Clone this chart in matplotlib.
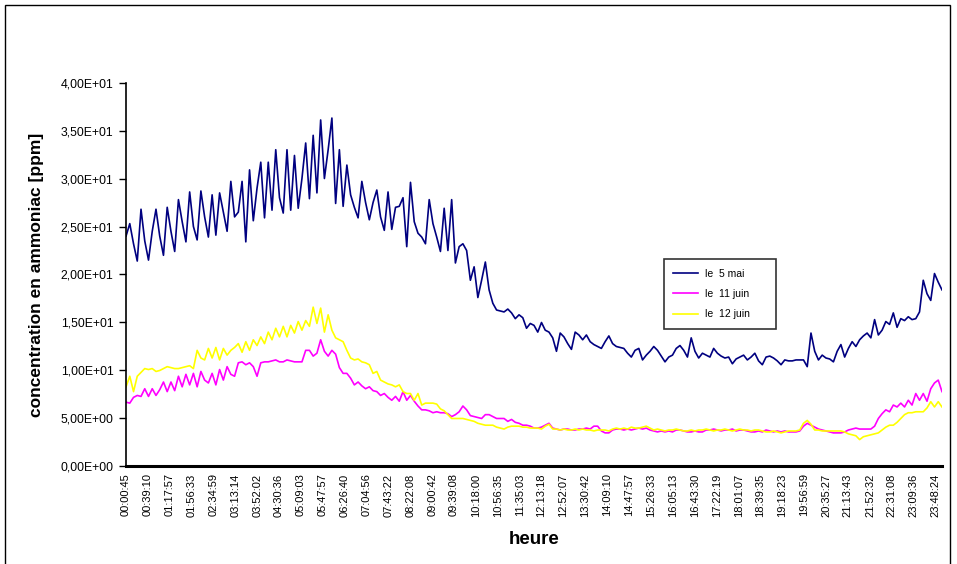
import matplotlib
matplotlib.use("Agg")
import matplotlib.pyplot as plt
from matplotlib.patches import Rectangle
import numpy as np

plt.rcParams['font.family'] = ['Liberation Sans', 'DejaVu Sans']

# time labels on the category axis
time_labels = [
    "00:00:45", "00:39:10", "01:17:57", "01:56:33", "02:34:59", "03:13:14",
    "03:52:02", "04:30:36", "05:09:03", "05:47:57", "06:26:40", "07:04:56",
    "07:43:22", "08:22:08", "09:00:42", "09:39:08", "10:18:00", "10:56:35",
    "11:35:03", "12:13:18", "12:52:07", "13:30:42", "14:09:10", "14:47:57",
    "15:26:33", "16:05:13", "16:43:30", "17:22:19", "18:01:07", "18:39:35",
    "19:18:23", "19:56:59", "20:35:27", "21:13:43", "21:52:32", "22:31:08",
    "23:09:36", "23:48:24",
]

sample_minutes = 6.6  # spacing of the read-off samples

# le 5 mai
mai_5 = [
    24.0, 25.3, 23.2, 21.4, 26.8, 23.5, 21.5, 24.5, 26.8, 24.0,
    22.0, 27.0, 24.5, 22.4, 27.8, 25.5, 23.4, 28.6, 25.0, 23.6,
    28.7, 26.0, 23.9, 28.3, 24.1, 28.5, 26.5, 24.5, 29.7, 26.0,
    26.5, 29.7, 23.4, 30.9, 25.6, 29.0, 31.7, 25.9, 31.7, 26.7,
    33.0, 28.0, 26.4, 33.0, 26.7, 32.4, 26.9, 30.0, 33.7, 27.9,
    34.5, 28.5, 36.1, 30.0, 33.0, 36.3, 27.4, 33.0, 27.1, 31.4,
    28.3, 27.0, 25.9, 29.7, 27.5, 25.7, 27.5, 28.8, 26.0, 24.6,
    28.6, 24.7, 27.0, 27.1, 28.0, 22.9, 29.6, 25.5, 24.3, 23.9,
    23.2, 27.8, 25.3, 23.9, 22.4, 26.9, 22.5, 27.8, 21.2, 22.9,
    23.2, 22.5, 19.4, 20.8, 17.6, 19.4, 21.3, 18.4, 17.0, 16.3,
    16.2, 16.1, 16.4, 16.0, 15.4, 15.8, 15.5, 14.4, 14.9, 14.7,
    14.0, 15.0, 14.2, 14.0, 13.4, 12.0, 13.9, 13.5, 12.8, 12.2,
    14.0, 13.7, 13.2, 13.7, 13.0, 12.7, 12.5, 12.3, 13.0, 13.6,
    12.8, 12.5, 12.4, 12.3, 11.8, 11.4, 12.1, 12.3, 11.1, 11.6,
    12.0, 12.5, 12.1, 11.5, 10.9, 11.4, 11.6, 12.3, 12.6, 12.1,
    11.4, 13.4, 12.0, 11.3, 11.8, 11.6, 11.4, 12.3, 11.8, 11.5,
    11.3, 11.4, 10.7, 11.2, 11.4, 11.6, 11.1, 11.4, 11.8, 11.0,
    10.6, 11.4, 11.5, 11.3, 11.0, 10.6, 11.1, 11.0, 11.0, 11.1,
    11.1, 11.1, 10.4, 13.9, 12.0, 11.1, 11.6, 11.3, 11.2, 10.9,
    12.0, 12.7, 11.4, 12.3, 13.0, 12.5, 13.2, 13.6, 13.9, 13.4,
    15.3, 13.7, 14.2, 15.1, 14.8, 16.0, 14.5, 15.4, 15.2, 15.6,
    15.3, 15.4, 16.1, 19.4, 18.0, 17.3, 20.1, 19.2, 18.4,
]

# le 11 juin
juin_11 = [
    6.7, 6.6, 7.2, 7.4, 7.3, 8.1, 7.3, 8.1, 7.4, 8.0,
    8.8, 7.8, 8.8, 7.9, 9.4, 8.3, 9.6, 8.5, 9.7, 8.3,
    9.9, 9.0, 8.7, 9.7, 8.5, 10.1, 9.0, 10.4, 9.6, 9.4,
    10.8, 10.9, 10.6, 10.8, 10.4, 9.4, 10.8, 10.9, 10.9, 11.0,
    11.1, 10.9, 10.9, 11.1, 11.0, 10.9, 10.9, 10.9, 12.1, 12.1,
    11.5, 11.8, 13.2, 12.0, 11.5, 12.1, 11.7, 10.3, 9.7, 9.7,
    9.2, 8.5, 8.8, 8.4, 8.1, 8.3, 7.9, 7.8, 7.4, 7.6,
    7.2, 6.9, 7.3, 6.8, 7.8, 6.9, 7.4, 6.8, 6.3, 5.9,
    5.9, 5.8, 5.6, 5.7, 5.6, 5.6, 5.5, 5.2, 5.4, 5.7,
    6.3, 5.9, 5.3, 5.2, 5.1, 5.0, 5.4, 5.4, 5.2, 5.0,
    5.0, 5.0, 4.7, 4.9, 4.6, 4.5, 4.3, 4.3, 4.2, 4.0,
    4.0, 4.1, 4.3, 4.5, 4.0, 3.9, 3.8, 3.9, 3.9, 3.8,
    3.8, 3.9, 3.9, 4.0, 3.9, 4.2, 4.2, 3.7, 3.5, 3.5,
    3.8, 3.9, 3.9, 3.8, 3.9, 3.8, 3.9, 4.0, 3.9, 4.0,
    3.8, 3.7, 3.6, 3.7, 3.6, 3.7, 3.6, 3.8, 3.8, 3.7,
    3.6, 3.6, 3.7, 3.6, 3.6, 3.8, 3.8, 3.9, 3.8, 3.7,
    3.8, 3.8, 3.9, 3.7, 3.8, 3.8, 3.7, 3.6, 3.6, 3.7,
    3.6, 3.8, 3.7, 3.6, 3.7, 3.6, 3.7, 3.6, 3.6, 3.6,
    3.7, 4.2, 4.5, 4.3, 4.1, 3.9, 3.8, 3.7, 3.6, 3.5,
    3.5, 3.5, 3.6, 3.8, 3.9, 4.0, 3.9, 3.9, 3.9, 3.9,
    4.2, 5.0, 5.5, 5.9, 5.7, 6.4, 6.2, 6.6, 6.2, 6.9,
    6.4, 7.6, 6.9, 7.6, 6.8, 8.1, 8.7, 9.0, 7.8,
]

# le 12 juin
juin_12 = [
    8.3, 9.4, 7.8, 9.4, 9.8, 10.2, 10.1, 10.2, 9.9, 10.0,
    10.2, 10.4, 10.3, 10.2, 10.2, 10.3, 10.4, 10.5, 10.2, 12.1,
    11.3, 11.1, 12.3, 11.3, 12.4, 11.1, 12.3, 11.6, 12.1, 12.4,
    12.8, 11.9, 13.0, 12.1, 13.2, 12.6, 13.5, 12.8, 14.0, 13.2,
    14.4, 13.5, 14.6, 13.5, 14.7, 13.9, 15.1, 14.2, 15.2, 14.6,
    16.6, 14.9, 16.5, 14.0, 15.8, 14.2, 13.4, 13.2, 13.0, 12.1,
    11.3, 11.1, 11.2, 10.9, 10.8, 10.6, 9.7, 9.9, 9.0, 8.8,
    8.6, 8.5, 8.3, 8.5, 7.8, 7.6, 7.6, 6.9, 7.6, 6.4,
    6.6, 6.6, 6.6, 6.5, 6.0, 5.8, 5.4, 5.0, 5.0, 5.0,
    5.0, 4.9, 4.8, 4.7, 4.5, 4.4, 4.3, 4.3, 4.3, 4.1,
    4.0, 3.9, 4.1, 4.2, 4.2, 4.2, 4.1, 4.1, 4.0, 4.0,
    4.0, 3.9, 4.2, 4.4, 3.9, 3.9, 3.8, 3.9, 3.8, 3.8,
    3.9, 3.8, 3.9, 3.8, 3.8, 3.7, 3.8, 3.8, 3.8, 3.7,
    3.9, 4.0, 3.9, 4.0, 3.9, 4.1, 4.0, 4.0, 4.1, 4.2,
    4.0, 3.8, 3.9, 3.8, 3.7, 3.8, 3.8, 3.9, 3.8, 3.7,
    3.7, 3.8, 3.7, 3.8, 3.8, 3.9, 3.8, 3.7, 3.8, 3.8,
    3.9, 3.8, 3.7, 3.8, 3.9, 3.8, 3.8, 3.7, 3.8, 3.8,
    3.7, 3.6, 3.6, 3.7, 3.6, 3.5, 3.6, 3.7, 3.7, 3.7,
    3.8, 4.5, 4.8, 4.4, 3.8, 3.8, 3.7, 3.7, 3.7, 3.7,
    3.7, 3.7, 3.6, 3.4, 3.3, 3.2, 2.8, 3.1, 3.2, 3.3,
    3.4, 3.5, 3.8, 4.1, 4.3, 4.3, 4.6, 5.0, 5.4, 5.6,
    5.6, 5.7, 5.7, 5.7, 6.1, 6.75, 6.2, 6.75, 6.2,
]

series = [
    ("le  5 mai", mai_5, "#000080"),
    ("le  11 juin", juin_11, "#FF00FF"),
    ("le  12 juin", juin_12, "#FFFF00"),
]


def to_hours(label):
    h, m, s = (int(p) for p in label.split(":"))
    return h + m / 60 + s / 3600


tick_pos = [to_hours(t) for t in time_labels]
t0 = tick_pos[0]

fig = plt.figure(figsize=(9.57, 5.64), dpi=100)
ax = fig.add_axes([0.1317, 0.1729, 0.8526, 0.6808])

t_end = t0
for name, vals, color in series:
    x = t0 + np.arange(len(vals)) * sample_minutes / 60
    ax.plot(x, vals, color=color, lw=1.2, label=name)
    t_end = max(t_end, x[-1])

ax.set_xlim(t0, t_end)
ax.set_ylim(0, 40)

yt = np.arange(0, 41, 5)
ax.set_yticks(yt)
ax.set_yticklabels([f"{v:.2E}".replace(".", ",") for v in yt], fontsize=8.8)
ax.set_xticks(tick_pos)
ax.set_xticklabels(time_labels, rotation=90, fontsize=8)
ax.tick_params(axis="x", length=0, pad=5)
ax.tick_params(axis="y", length=5, width=1, direction="out", pad=4)

for s in ("top", "right"):
    ax.spines[s].set_visible(False)
ax.spines["left"].set_linewidth(1.2)
ax.spines["bottom"].set_linewidth(2.2)

ax.set_ylabel("concentration en ammoniac [ppm]", fontsize=12.5, fontweight="bold", labelpad=12)
ax.set_xlabel("heure", fontsize=13.5, fontweight="bold", labelpad=10)

leg = ax.legend(loc="center", bbox_to_anchor=(0.728, 0.449), fontsize=7.5,
                frameon=True, fancybox=False, edgecolor="black",
                handlelength=2.4, handletextpad=0.6, labelspacing=1.0,
                borderpad=0.9, borderaxespad=0)
leg.get_frame().set_linewidth(1.2)
for t in leg.get_texts():
    t.set_text(t.get_text() + "      ")

# outer chart border
fig.patches.append(Rectangle((5 / 957, -0.01), 945 / 957, 1.0011, transform=fig.transFigure,
                             fill=False, edgecolor="black", lw=1))

fig.savefig("out.png", dpi=100)
